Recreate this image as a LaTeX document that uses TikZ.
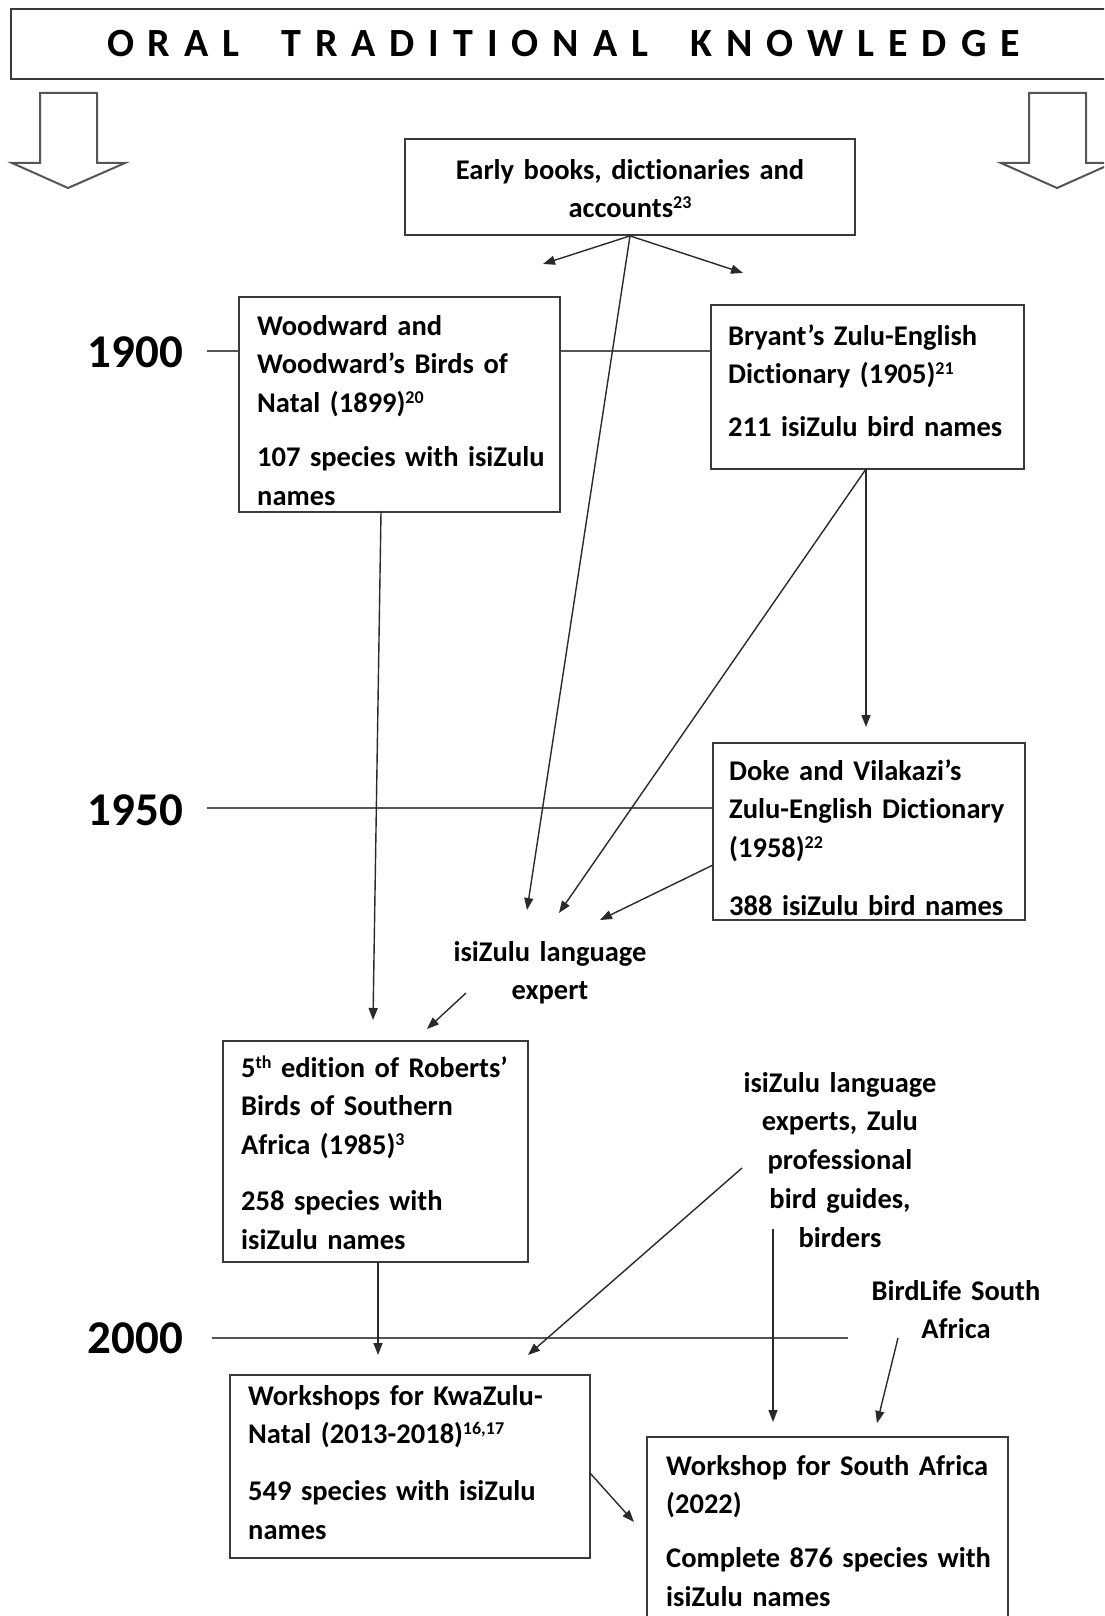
\documentclass[tikz,border=0pt]{standalone}
\usepackage{fontspec}
\setmainfont{Carlito}[Ligatures=NoCommon, RawFeature={-liga;-clig;-calt;-dlig}]
\usetikzlibrary{arrows.meta}
\definecolor{boxc}{HTML}{3A3A3A}
\definecolor{linec}{HTML}{555555}
\definecolor{arrc}{HTML}{2A2A2A}
\newcommand\bodyfont{\fontsize{28.5}{38.8}\selectfont\bfseries}
\newcommand\yearfont{\fontsize{47}{47}\selectfont\bfseries}
\newcommand\titlefont{\fontsize{40}{40}\selectfont\bfseries}
\newcommand\supx[1]{\raisebox{9pt}{\fontsize{18}{18}\selectfont\bfseries #1}}
\tikzset{
  box/.style={draw=boxc, line width=1.8pt, rectangle, inner sep=0pt},
  txt/.style={anchor=base west, inner sep=0pt, text width=340pt, align=left, font=\bodyfont},
  ctxt/.style={anchor=base, inner sep=0pt, text width=300pt, align=center, font=\bodyfont},
  year/.style={anchor=base east, inner sep=0pt, font=\yearfont},
  tl/.style={draw=linec, line width=1.8pt},
  arr/.style={draw=arrc, line width=1.4pt, -{Triangle[length=12pt,width=9pt]}},
  hollow/.style={draw=linec, line width=2pt, fill=white, line join=miter}
}
\begin{document}
\begin{tikzpicture}[x=1pt,y=-1pt]
\useasboundingbox (0,0) rectangle (1104,1616);
\clip (0,0) rectangle (1104,1616);
% banner
\node[box, minimum width=1110pt, minimum height=70pt, anchor=north west] (banner) at (10,8) {};
\node[anchor=base, inner sep=0pt, font=\titlefont] (title) at (563.5,57)
  {\hbox to 913pt{O\hfill R\hfill A\hfill L\hfill\hfill\hfill T\hfill R\hfill A\hfill D\hfill I\hfill T\hfill I\hfill O\hfill N\hfill A\hfill L\hfill\hfill\hfill K\hfill N\hfill O\hfill W\hfill L\hfill E\hfill D\hfill G\hfill E}};
% hollow arrows
\draw[hollow] (40,93) -- (97,93) -- (97,163) -- (125,163) -- (68,188) -- (12,163) -- (40,163) -- cycle;
\draw[hollow] (1029,93) -- (1086,93) -- (1086,163) -- (1113,163) -- (1057,188) -- (1001,163) -- (1029,163) -- cycle;

% years
\node[year] (y1900) at (183,367) {1900};
\node[year] (y1950) at (183,825) {1950};
\node[year] (y2000) at (183,1353) {2000};
\coordinate (t1900) at (207,351);
\coordinate (t1950) at (207,808);
\coordinate (t2000) at (212,1338);
\coordinate (t2000e) at (848,1338);

% boxes
\node[box, minimum width=450pt, minimum height=96pt] (early) at (630,187) {};
\node[box, minimum width=321pt, minimum height=215pt] (wood) at (399.5,404.5) {};
\node[box, minimum width=313pt, minimum height=164pt] (bry) at (867.5,387) {};
\node[box, minimum width=312pt, minimum height=177pt] (doke) at (869,831.5) {};
\node[box, minimum width=305pt, minimum height=221pt] (rob) at (375.5,1151.5) {};
\node[box, minimum width=360pt, minimum height=183pt] (kzn) at (410,1466.5) {};
\node[box, minimum width=361pt, minimum height=203pt] (sa) at (827.5,1538.5) {};

% timeline lines
\draw[tl] (t1900) -- (t1900 -| wood.west);
\draw[tl] (t1900 -| wood.east) -- (t1900 -| bry.west);
\draw[tl] (t1950) -- (t1950 -| doke.west);
\draw[tl] (t2000) -- (t2000e);

% texts
\node[ctxt, text width=440pt] (earlyt) at (630,179) {Early books, dictionaries and\\accounts\supx{23}};
\node[txt] (woodt) at (257,335) {Woodward and\\Woodward’s Birds of\\Natal (1899)\supx{20}\\[15pt]107 species with isiZulu\\names};
\node[txt] (bryt) at (728,345) {Bryant’s Zulu-English\\Dictionary (1905)\supx{21}\\[14pt]211 isiZulu bird names};
\node[txt] (doket) at (729,780) {Doke and Vilakazi’s\\Zulu-English Dictionary\\(1958)\supx{22}\\[19pt]388 isiZulu bird names};
\node[ctxt] (expert) at (550,961) {isiZulu language\\expert};
\node[txt] (robt) at (241,1077) {5\supx{th} edition of Roberts’\\Birds of Southern\\Africa (1985)\supx{3}\\[17pt]258 species with\\isiZulu names};
\node[ctxt] (experts) at (840,1092) {isiZulu language\\experts, Zulu\\professional\\bird guides,\\birders};
\node[ctxt] (birdlife) at (956,1300) {BirdLife South\\Africa};
\node[txt] (kznt) at (248,1405) {Workshops for KwaZulu-\\Natal (2013-2018)\supx{16,17}\\[18pt]549 species with isiZulu\\names};
\node[txt] (sat) at (666,1475) {Workshop for South Africa\\(2022)\\[15pt]Complete 876 species with\\isiZulu names};

% connector end points
\coordinate (c1) at (543,264);
\coordinate (c2) at (743,273);
\coordinate (c3) at (527,910);
\coordinate (b0) at (866,469);
\coordinate (b1) at (866,727);
\coordinate (b2) at (559,913);
\coordinate (d0) at (713,865);
\coordinate (d1) at (600,920);
\coordinate (w0) at (381,512);
\coordinate (w1) at (373,1020);
\coordinate (x0) at (466,993);
\coordinate (x1) at (427,1029);
\coordinate (r0) at (378,1262);
\coordinate (r1) at (378,1355);
\coordinate (e0) at (742,1168);
\coordinate (e1) at (528,1355);
\coordinate (v0) at (773,1229);
\coordinate (v1) at (773,1422);
\coordinate (l0) at (898,1338);
\coordinate (l1) at (877,1423);
\coordinate (k0) at (590,1473);
\coordinate (k1) at (634,1522);

\draw[arr] (early.south) -- (c1);
\draw[arr] (early.south) -- (c2);
\draw[arr] (early.south) -- (c3);
\draw[arr] (b0) -- (b1);
\draw[arr] (b0) -- (b2);
\draw[arr] (d0) -- (d1);
\draw[arr] (w0) -- (w1);
\draw[arr] (x0) -- (x1);
\draw[arr] (r0) -- (r1);
\draw[arr] (e0) -- (e1);
\draw[arr] (v0) -- (v1);
\draw[arr] (l0) -- (l1);
\draw[arr] (k0) -- (k1);
\end{tikzpicture}
\end{document}
